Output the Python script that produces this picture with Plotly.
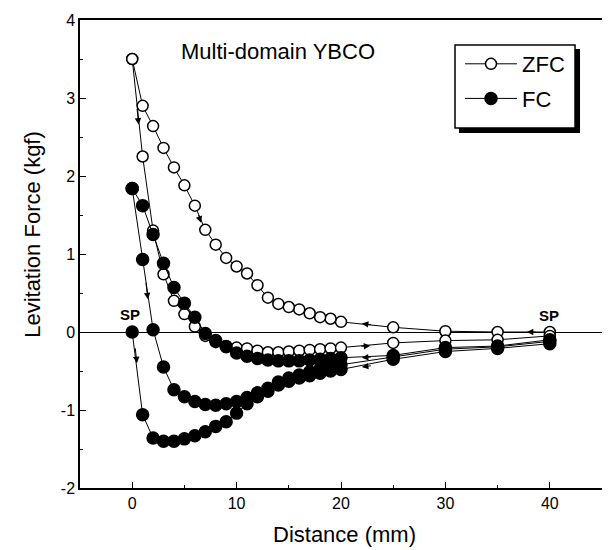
import plotly.graph_objects as go

# ---------------- data ----------------
zfc_approach_x = [40, 35, 30, 25, 20, 19, 18, 17, 16, 15, 14, 13, 12, 11, 10, 9, 8, 7, 6, 5, 4, 3, 2, 1, 0]
zfc_approach_y = [0.00, 0.00, 0.01, 0.06, 0.13, 0.17, 0.19, 0.24, 0.29, 0.32, 0.36, 0.44, 0.60, 0.75,
                  0.84, 0.95, 1.12, 1.31, 1.62, 1.88, 2.11, 2.36, 2.64, 2.90, 3.50]

zfc_recede_x = [0, 1, 2, 3, 4, 5, 6, 7, 8, 9, 10, 11, 12, 13, 14, 15, 16, 17, 18, 19, 20, 25, 30, 35, 40]
zfc_recede_y = [3.50, 2.25, 1.30, 0.74, 0.40, 0.23, 0.07, -0.05, -0.13, -0.18, -0.20, -0.21, -0.24, -0.26,
                -0.26, -0.25, -0.24, -0.23, -0.22, -0.21, -0.20, -0.14, -0.11, -0.10, -0.05]

fc_first_x = [0, 1, 2, 3, 4, 5, 6, 7, 8, 9, 10, 11, 12, 13, 14, 15, 16, 17, 18, 19, 20, 25, 30, 35, 40]
fc_first_y = [0.00, -1.06, -1.36, -1.40, -1.40, -1.37, -1.33, -1.28, -1.21, -1.15, -1.04, -0.92, -0.83,
              -0.76, -0.68, -0.63, -0.59, -0.56, -0.53, -0.50, -0.48, -0.35, -0.25, -0.21, -0.15]

fc_approach_x = [40, 35, 30, 25, 20, 19, 18, 17, 16, 15, 14, 13, 12, 11, 10, 9, 8, 7, 6, 5, 4, 3, 2, 1, 0]
fc_approach_y = [-0.10, -0.18, -0.20, -0.30, -0.33, -0.34, -0.35, -0.36, -0.37, -0.37, -0.37, -0.36, -0.34,
                 -0.31, -0.27, -0.19, -0.11, -0.02, 0.19, 0.37, 0.57, 0.88, 1.25, 1.62, 1.84]

fc_second_x = [0, 1, 2, 3, 4, 5, 6, 7, 8, 9, 10, 11, 12, 13, 14, 15, 16, 17, 18, 19, 20, 25, 30, 35, 40]
fc_second_y = [1.84, 0.93, 0.03, -0.45, -0.74, -0.83, -0.89, -0.93, -0.94, -0.92, -0.89, -0.84, -0.78,
               -0.72, -0.64, -0.59, -0.55, -0.51, -0.47, -0.44, -0.42, -0.32, -0.22, -0.19, -0.12]

x_tick_vals = [0, 10, 20, 30, 40]
y_tick_vals = [-2, -1, 0, 1, 2, 3, 4]

# direction arrows along the curves: (tail_x, tail_y, head_x, head_y)
arrows = [
    (0.45, 2.88, 0.62, 2.66),
    (6.30, 1.52, 6.60, 1.40),
    (1.30, 0.65, 1.50, 0.42),
    (0.28, -0.19, 0.45, -0.40),
    (23.0, 0.09, 22.0, 0.11),
    (21.8, -0.185, 22.8, -0.175),
    (23.0, -0.32, 22.0, -0.33),
    (23.0, -0.43, 22.0, -0.45),
    (38.8, 0.0, 37.8, 0.0),
]

FONT = "Arial, Liberation Sans, sans-serif"

fig = go.Figure()


def add(x, y, name, filled, show):
    fig.add_trace(go.Scatter(
        x=x, y=y, mode="lines+markers", name=name, legendgroup=name, showlegend=show,
        line=dict(color="black", width=1),
        marker=dict(symbol="circle", size=12 if filled else 11,
                    color="black" if filled else "white",
                    line=dict(color="black", width=1.5)),
    ))


add(zfc_approach_x, zfc_approach_y, "ZFC", False, True)
add(zfc_recede_x, zfc_recede_y, "ZFC", False, False)
add(fc_first_x, fc_first_y, "FC", True, True)
add(fc_approach_x, fc_approach_y, "FC", True, False)
add(fc_second_x, fc_second_y, "FC", True, False)

annotations = []
for tx, ty, hx, hy in arrows:
    annotations.append(dict(x=hx, y=hy, ax=tx, ay=ty, xref="x", yref="y", axref="x", ayref="y",
                            text="", showarrow=True, arrowhead=2, arrowsize=1.3, arrowwidth=1,
                            arrowcolor="black"))

annotations += [
    dict(x=14.0, y=3.59, xref="x", yref="y", text="Multi-domain YBCO", showarrow=False,
         font=dict(family=FONT, size=22, color="black")),
    dict(x=-0.2, y=0.23, xref="x", yref="y", text="<b>SP</b>", showarrow=False,
         font=dict(family=FONT, size=15, color="black")),
    dict(x=39.9, y=0.21, xref="x", yref="y", text="<b>SP</b>", showarrow=False,
         font=dict(family=FONT, size=15, color="black")),
    dict(x=-0.09, y=0.541, xref="paper", yref="paper", text="Levitation Force (kgf)", showarrow=False,
         textangle=-90, xanchor="center", yanchor="middle",
         font=dict(family=FONT, size=22, color="black")),
    dict(x=0.506, y=-0.1004, xref="paper", yref="paper", text="Distance (mm)", showarrow=False,
         xanchor="center", yanchor="middle",
         font=dict(family=FONT, size=22, color="black")),
]

shapes = [
    # legend drop shadow
    dict(type="rect", xref="paper", yref="paper", x0=0.7261, x1=0.9579, y0=0.7585, y1=0.938,
         fillcolor="black", line=dict(width=0), layer="above"),
    # legend box
    dict(type="rect", xref="paper", yref="paper", x0=0.7184, x1=0.9483, y0=0.7692, y1=0.9466,
         fillcolor="white", line=dict(color="black", width=1.5), layer="above"),
]

fig.update_layout(
    width=602, height=542,
    margin=dict(l=72, r=8, t=12, b=62, autoexpand=False),
    paper_bgcolor="white", plot_bgcolor="white",
    font=dict(family=FONT, color="black"),
    showlegend=True,
    legend=dict(x=(460 - 80) / 522, y=(488 - 43) / 468, xanchor="left", yanchor="top",
                bgcolor="rgba(0,0,0,0)", borderwidth=0,
                font=dict(family=FONT, size=22, color="black"),
                itemwidth=52, tracegroupgap=3),
    annotations=annotations,
    shapes=shapes,
)

fig.update_xaxes(
    range=[-5, 45], tickvals=x_tick_vals, ticktext=[str(v) for v in x_tick_vals],
    automargin=False,
    showgrid=False, zeroline=False,
    showline=True, linecolor="black", linewidth=1.5, mirror=True,
    ticks="inside", ticklen=6, tickwidth=1.2, tickcolor="black",
    minor=dict(ticks="inside", ticklen=3, tickwidth=1, tickcolor="black", dtick=5, tick0=5),
    tickfont=dict(family=FONT, size=16, color="black"),
)
fig.update_yaxes(
    range=[-2, 4], tickvals=y_tick_vals, ticktext=[str(v) for v in y_tick_vals],
    automargin=False,
    showgrid=False, zeroline=True, zerolinecolor="black", zerolinewidth=1.2,
    showline=True, linecolor="black", linewidth=1.5, mirror=True,
    ticks="inside", ticklen=6, tickwidth=1.2, tickcolor="black",
    minor=dict(ticks="inside", ticklen=3, tickwidth=1, tickcolor="black", dtick=0.5, tick0=0.5),
    tickfont=dict(family=FONT, size=16, color="black"),
)

fig.write_html("out.html")
